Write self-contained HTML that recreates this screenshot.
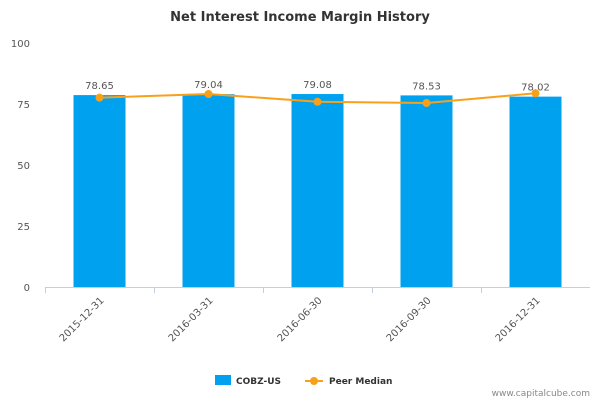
<!DOCTYPE html>
<html><head><meta charset="utf-8"><style>
body{margin:0;background:#fff;font-family:"Liberation Sans",sans-serif}
svg text{font-family:"DejaVu Sans","Liberation Sans",sans-serif}
</style></head><body>
<svg id="chart" width="600" height="400">
<text x="300" y="21" text-anchor="middle" font-size="13" font-weight="bold" fill="#333">Net Interest Income Margin History</text>
<g id="grid"></g><g id="bars"></g><g id="line"></g>
<g>
<rect x="215" y="375" width="16" height="10" fill="#00a2f0"/>
<text x="236" y="384" font-size="9" font-weight="bold" fill="#333">COBZ-US</text>
<line x1="305" y1="381" x2="323" y2="381" stroke="#f9a01b" stroke-width="2"/>
<circle cx="314" cy="381" r="4" fill="#f9a01b"/>
<text x="329" y="384" font-size="9" font-weight="bold" fill="#333">Peer Median</text>
</g>
<text x="590" y="396" text-anchor="end" font-size="9" fill="#888">www.capitalcube.com</text>
</svg>
<script>
const categories=["2015-12-31","2016-03-31","2016-06-30","2016-09-30","2016-12-31"];
const companyValues=[78.65,79.04,79.08,78.53,78.02];
const peerValues=[77.6,79.1,75.9,75.4,79.4];
const yTicks=[0,25,50,75,100];
const NS="http://www.w3.org/2000/svg";
const x0=45,x1=590,y0=287,y1=43;
const band=(x1-x0)/categories.length;
const xc=i=>x0+band*(i+0.5);
const ys=v=>y0-(v/100)*(y0-y1);
function mk(t,a,p){const e=document.createElementNS(NS,t);for(const k in a)e.setAttribute(k,a[k]);p.appendChild(e);return e;}
const g=document.getElementById('grid'),b=document.getElementById('bars'),l=document.getElementById('line');
yTicks.forEach(v=>{
 const t=mk('text',{x:30,y:ys(v)+4,'text-anchor':'end','font-size':10,fill:'#555'},g);t.textContent=v;
 
 
});
const ax=mk('line',{x1:x0,y1:y0+0.5,x2:x1,y2:y0+0.5,stroke:'#c0d0e0'},g);


categories.forEach((c,i)=>{
 const tk=mk('line',{x1:x0+band*i+0.5,y1:y0,x2:x0+band*i+0.5,y2:y0+6,stroke:'#c0d0e0'},g);
 
 
 const t=mk('text',{x:xc(i)+5,y:y0+14,'text-anchor':'end','font-size':10,fill:'#555',transform:`rotate(-45 ${xc(i)+5} ${y0+14})`},g);t.textContent=c;
 
 
 const r=mk('rect',{x:xc(i)-26,y:ys(companyValues[i]),width:52,height:y0-ys(companyValues[i]),fill:'#00a2f0'},b);
 
 
 const vl=mk('text',{x:xc(i),y:ys(companyValues[i])-6,'text-anchor':'middle','font-size':10,fill:'#555'},b);vl.textContent=companyValues[i].toFixed(2);
 
 
});
let d='';peerValues.forEach((v,i)=>{d+=(i?'L':'M')+xc(i)+','+ys(v);});
const p=mk('path',{d:d,fill:'none',stroke:'#f9a01b','stroke-width':2},l);


peerValues.forEach((v,i)=>{
 const c=mk('circle',{cx:xc(i),cy:ys(v),r:4,fill:'#f9a01b'},l);
 
 
});
</script>
</body></html>
